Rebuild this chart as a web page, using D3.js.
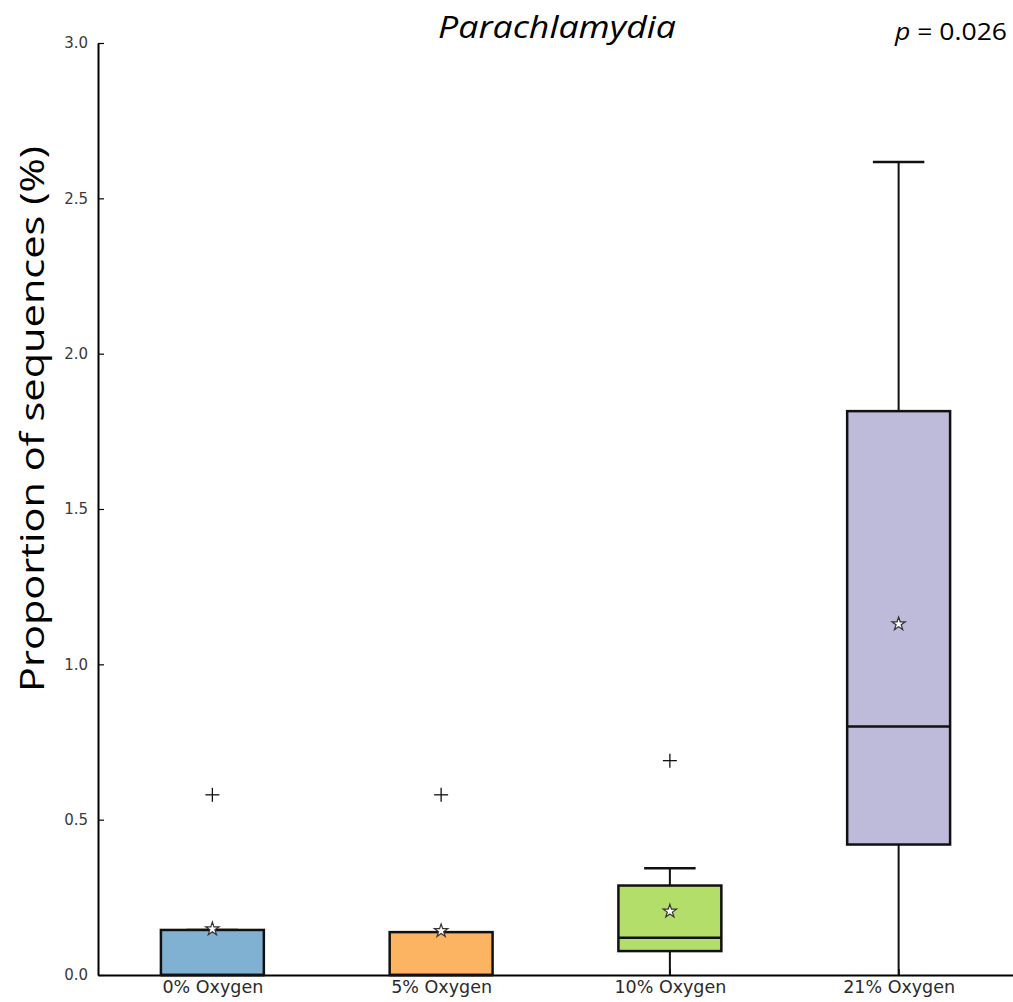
<!DOCTYPE html>
<html>
<head>
<meta charset="utf-8">
<script src="https://cdnjs.cloudflare.com/ajax/libs/d3/7.8.5/d3.min.js"></script>
<style>
  body { margin: 0; background: #fff; }
  svg { display: block; }
</style>
</head>
<body>
<div id="chart"></div>
<script>
// box plot values (proportion of sequences, %)
var categories = ["0% Oxygen", "5% Oxygen", "10% Oxygen", "21% Oxygen"];
var whiskerLow  = [0, 0, 0, 0];
var q1          = [0, 0, 0.077, 0.42];
var medians     = [0, 0, 0.12, 0.80];
var q3          = [0.145, 0.138, 0.288, 1.815];
var whiskerHigh = [0.145, 0.138, 0.344, 2.617];
var means       = [0.148, 0.142, 0.205, 1.13];
var outliers    = [[0.58], [0.58], [0.69], []];
var boxColors   = ["#80b1d3", "#fdb462", "#b3de69", "#bebada"];
var yTicks      = [0, 0.5, 1.0, 1.5, 2.0, 2.5, 3.0];

var width = 1013, height = 1002;
var margin = {left: 98, top: 43, bottom: 27};

var svg = d3.select("#chart").append("svg")
    .attr("width", width)
    .attr("height", height);

// box positions 1..4, axis from 0.5 to 4.5 like matplotlib
var x = d3.scaleLinear().domain([0.5, 4.5]).range([margin.left, width]);
var y = d3.scaleLinear().domain([0, 3]).range([height - margin.bottom, margin.top]);

var boxW = x(1.45) - x(1);   // 0.45 units wide
var capW = boxW / 2;

var data = categories.map(function(c, i) {
  return {name: c, pos: i + 1, lo: whiskerLow[i], q1: q1[i], med: medians[i],
          q3: q3[i], hi: whiskerHigh[i], mean: means[i], fliers: outliers[i],
          color: boxColors[i]};
});

// axes
var yAxis = svg.append("g")
    .attr("transform", "translate(" + margin.left + ",0)")
    .call(d3.axisLeft(y).tickValues(yTicks).tickFormat(d3.format(".1f"))
          .tickSizeInner(-6).tickSizeOuter(0).tickPadding(10));
yAxis.select(".domain").attr("stroke", "#000").attr("stroke-width", 2);
yAxis.selectAll(".tick line").attr("stroke", "#000").attr("stroke-width", 1.2);
yAxis.selectAll(".tick text")
    .attr("font-family", "DejaVu Sans").attr("font-size", 15).attr("fill", "#3a3a3a");

var xAxis = svg.append("g")
    .attr("transform", "translate(0," + y(0) + ")")
    .call(d3.axisBottom(x).tickValues([1, 2, 3, 4])
          .tickFormat(function(d) { return categories[d - 1]; })
          .tickSizeInner(-6).tickSizeOuter(0).tickPadding(6));
xAxis.select(".domain").attr("stroke", "#000").attr("stroke-width", 2);
xAxis.selectAll(".tick line").attr("stroke", "#000").attr("stroke-width", 1.2);
xAxis.selectAll(".tick text")
    .attr("font-family", "DejaVu Sans").attr("font-size", 17.5).attr("fill", "#2a2a2a");

var g = svg.append("g");

var boxes = g.selectAll("g.box").data(data).enter().append("g").attr("class", "box");

// whiskers
boxes.append("line")
    .attr("x1", function(d) { return x(d.pos); })
    .attr("x2", function(d) { return x(d.pos); })
    .attr("y1", function(d) { return y(d.q3); })
    .attr("y2", function(d) { return y(d.hi); })
    .attr("stroke", "#111").attr("stroke-width", 2);
boxes.append("line")
    .attr("x1", function(d) { return x(d.pos); })
    .attr("x2", function(d) { return x(d.pos); })
    .attr("y1", function(d) { return y(d.q1); })
    .attr("y2", function(d) { return y(d.lo); })
    .attr("stroke", "#111").attr("stroke-width", 2);
boxes.append("line")
    .attr("x1", function(d) { return x(d.pos) - capW / 2; })
    .attr("x2", function(d) { return x(d.pos) + capW / 2; })
    .attr("y1", function(d) { return y(d.hi); })
    .attr("y2", function(d) { return y(d.hi); })
    .attr("stroke", "#111").attr("stroke-width", 2.5);

// the box itself
boxes.append("rect")
    .attr("x", function(d) { return x(d.pos) - boxW / 2; })
    .attr("y", function(d) { return y(d.q3); })
    .attr("width", boxW)
    .attr("height", function(d) { return y(d.q1) - y(d.q3); })
    .attr("fill", function(d) { return d.color; })
    .attr("stroke", "#111").attr("stroke-width", 2.5);

// median
boxes.append("line")
    .attr("x1", function(d) { return x(d.pos) - boxW / 2; })
    .attr("x2", function(d) { return x(d.pos) + boxW / 2; })
    .attr("y1", function(d) { return y(d.med); })
    .attr("y2", function(d) { return y(d.med); })
    .attr("stroke", "#111").attr("stroke-width", 2.5);

// mean star
var star = d3.symbol().type(d3.symbolStar).size(55);
boxes.append("path")
    .attr("d", star)
    .attr("transform", function(d) { return "translate(" + x(d.pos) + "," + y(d.mean) + ")"; })
    .attr("fill", "#fff").attr("stroke", "#333").attr("stroke-width", 1.2);

// outliers as "+"
var fl = [];
data.forEach(function(d) { d.fliers.forEach(function(v) { fl.push({pos: d.pos, v: v}); }); });
g.selectAll("g.flier").data(fl).enter().append("g")
    .attr("class", "flier")
    .attr("transform", function(d) { return "translate(" + x(d.pos) + "," + y(d.v) + ")"; })
    .each(function() {
      var s = d3.select(this);
      s.append("line").attr("x1", -7).attr("x2", 7).attr("stroke", "#111").attr("stroke-width", 1.3);
      s.append("line").attr("y1", -7).attr("y2", 7).attr("stroke", "#111").attr("stroke-width", 1.3);
    });

// title and p value
svg.append("text")
    .attr("x", 557).attr("y", 38)
    .attr("text-anchor", "middle")
    .attr("font-family", "Open Sans").attr("font-style", "italic")
    .attr("font-size", 31).attr("fill", "#000")
    .attr("textLength", 238).attr("lengthAdjust", "spacingAndGlyphs")
    .text("Parachlamydia");

var pText = svg.append("text")
    .attr("x", 895).attr("y", 40)
    .attr("font-family", "Open Sans").attr("font-size", 23).attr("fill", "#000")
    .attr("textLength", 112).attr("lengthAdjust", "spacingAndGlyphs");
pText.append("tspan").attr("font-style", "italic").text("p");
pText.append("tspan").text(" = 0.026");

// y label
svg.append("text")
    .attr("transform", "translate(44,419) rotate(-90)")
    .attr("text-anchor", "middle")
    .attr("font-family", "Open Sans").attr("font-size", 33).attr("fill", "#000")
    .attr("textLength", 546).attr("lengthAdjust", "spacingAndGlyphs")
    .text("Proportion of sequences (%)");
</script>
</body>
</html>
